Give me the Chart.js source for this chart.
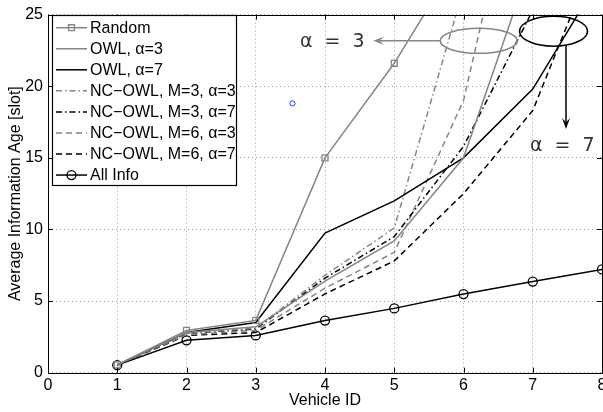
<!DOCTYPE html>
<html>
<head>
<meta charset="utf-8">
<script src="https://cdn.jsdelivr.net/npm/chart.js@4/dist/chart.umd.min.js"></script>
<style>
    html, body { margin: 0; padding: 0; background: #fff; overflow: hidden; }
    #wrap { width: 612px; height: 412px; }
</style>
</head>
<body>
<div id="wrap"><canvas id="chart" width="612" height="412"></canvas></div>
<script>
const vehicleIds = [1, 2, 3, 4, 5, 6, 7, 8];
const randomAge  = [0.55, 2.95, 3.65, 15.0, 21.6, 29.5, 38.0, 46.0];
const owlA3      = [0.55, 2.80, 3.20, 6.4, 9.2, 15.0, 29.0, 42.0];
const owlA7      = [0.55, 2.80, 3.50, 9.75, 12.0, 15.0, 19.8, 27.8];
const ncM3A3     = [0.55, 2.75, 3.10, 6.8, 10.1, 26.8, 42.0, 60.0];
const ncM3A7     = [0.55, 2.75, 3.05, 6.6, 9.5, 15.8, 25.3, 34.0];
const ncM6A3     = [0.55, 2.65, 2.95, 5.9, 8.4, 19.0, 40.0, 58.0];
const ncM6A7     = [0.55, 2.60, 2.80, 5.5, 7.8, 12.5, 18.3, 30.3];
const allInfo    = [0.53, 2.26, 2.60, 3.64, 4.49, 5.49, 6.36, 7.21];

const strayX = [3.53];
const strayY = [18.8];

const seriesNames = [
    "Random", "OWL, \u03b1=3", "OWL, \u03b1=7",
    "NC\u2212OWL, M=3, \u03b1=3", "NC\u2212OWL, M=3, \u03b1=7",
    "NC\u2212OWL, M=6, \u03b1=3", "NC\u2212OWL, M=6, \u03b1=7", "All Info"
];

const GRAY = "#858585";
const FONT = "'Liberation Sans', Arial, Helvetica, sans-serif";
const DASH = [6, 4];
const DASH_DOT = [6, 3, 1.5, 3];

function pts(values) {
    return vehicleIds.map((v, i) => ({ x: v, y: values[i] }));
}

function series(label, values, color, dash, marker) {
    return {
        label,
        data: pts(values),
        borderColor: color,
        backgroundColor: "transparent",
        borderWidth: 1.5,
        borderDash: dash,
        pointStyle: marker || false,
        pointRadius: marker === "rect" ? 4.2 : (marker ? 4.5 : 0),
        pointBorderColor: color,
        pointBorderWidth: 1.3,
        pointBackgroundColor: "transparent",
        tension: 0
    };
}

const datasets = [
    series(seriesNames[0], randomAge, GRAY, [], "rect"),
    series(seriesNames[1], owlA3, GRAY, []),
    series(seriesNames[2], owlA7, "#000", []),
    series(seriesNames[3], ncM3A3, GRAY, DASH_DOT),
    series(seriesNames[4], ncM3A7, "#000", DASH_DOT),
    series(seriesNames[5], ncM6A3, GRAY, DASH),
    series(seriesNames[6], ncM6A7, "#000", DASH),
    series(seriesNames[7], allInfo, "#000", [], "circle"),
    {
        label: "",
        data: strayX.map((x, i) => ({ x, y: strayY[i] })),
        showLine: false,
        pointStyle: "circle",
        pointRadius: 2.6,
        pointBorderColor: "#2233ff",
        pointBorderWidth: 1,
        pointBackgroundColor: "transparent",
        skipLegend: true
    }
];

function drawMarker(ctx, style, x, y, r, color) {
    ctx.save();
    ctx.setLineDash([]);
    ctx.strokeStyle = color;
    ctx.lineWidth = 1.3;
    ctx.beginPath();
    if (style === "rect") {
        const s = Math.SQRT1_2 * r;
        ctx.rect(x - s, y - s, 2 * s, 2 * s);
    } else {
        ctx.arc(x, y, r, 0, Math.PI * 2);
    }
    ctx.stroke();
    ctx.restore();
}

function arrow(ctx, x1, y1, x2, y2, color) {
    const ang = Math.atan2(y2 - y1, x2 - x1);
    const len = 11, half = 4;
    ctx.save();
    ctx.strokeStyle = color;
    ctx.fillStyle = color;
    ctx.lineWidth = 1.5;
    ctx.beginPath();
    ctx.moveTo(x1, y1);
    ctx.lineTo(x2 - Math.cos(ang) * len * 0.6, y2 - Math.sin(ang) * len * 0.6);
    ctx.stroke();
    ctx.beginPath();
    ctx.moveTo(x2, y2);
    ctx.lineTo(x2 - Math.cos(ang) * len - Math.sin(ang) * half, y2 - Math.sin(ang) * len + Math.cos(ang) * half);
    ctx.lineTo(x2 - Math.cos(ang) * len * 0.6, y2 - Math.sin(ang) * len * 0.6);
    ctx.lineTo(x2 - Math.cos(ang) * len + Math.sin(ang) * half, y2 - Math.sin(ang) * len - Math.cos(ang) * half);
    ctx.closePath();
    ctx.fill();
    ctx.restore();
}

// frame with inward ticks, legend box and the alpha callouts
const decorations = {
    id: "decorations",
    afterDraw(chart) {
        const { ctx, chartArea: a, scales } = chart;
        const xs = scales.x, ys = scales.y;

        ctx.save();
        ctx.strokeStyle = "#000";
        ctx.lineWidth = 1;
        ctx.setLineDash([]);
        ctx.strokeRect(Math.round(a.left) + 0.5, Math.round(a.top) + 0.5,
            Math.round(a.right - a.left), Math.round(a.bottom - a.top));
        ctx.beginPath();
        xs.ticks.forEach(t => {
            const px = Math.round(xs.getPixelForValue(t.value)) + 0.5;
            ctx.moveTo(px, a.bottom); ctx.lineTo(px, a.bottom - 5);
            ctx.moveTo(px, a.top); ctx.lineTo(px, a.top + 5);
        });
        ys.ticks.forEach(t => {
            const py = Math.round(ys.getPixelForValue(t.value)) + 0.5;
            ctx.moveTo(a.left, py); ctx.lineTo(a.left + 5, py);
            ctx.moveTo(a.right, py); ctx.lineTo(a.right - 5, py);
        });
        ctx.stroke();
        ctx.restore();

        // callouts
        ctx.save();
        const g = { x: xs.getPixelForValue(6.22), y: ys.getPixelForValue(23.17) };
        ctx.strokeStyle = GRAY;
        ctx.lineWidth = 1.6;
        ctx.beginPath();
        ctx.ellipse(g.x, g.y, 38.5, 12.5, 0, 0, Math.PI * 2);
        ctx.stroke();
        arrow(ctx, g.x - 38.5, g.y, 373, g.y, GRAY);

        const b = { x: xs.getPixelForValue(7.3), y: ys.getPixelForValue(23.84) };
        ctx.strokeStyle = "#000";
        ctx.lineWidth = 1.6;
        ctx.beginPath();
        ctx.ellipse(b.x, b.y, 34, 15, 0, 0, Math.PI * 2);
        ctx.stroke();
        arrow(ctx, 566, b.y + 14.5, 566, 129, "#000");

        ctx.fillStyle = "#333";
        ctx.font = "19px 'DejaVu Sans', sans-serif";
        ctx.textBaseline = "middle";
        ctx.textAlign = "left";
        ctx.fillText("\u03b1  =  3", 300, g.y + 1);
        ctx.fillText("\u03b1  =  7", 530, 146);
        ctx.restore();

        // legend
        ctx.save();
        const lx = 52.5, ly = 15.5, lw = 184, lh = 170;
        ctx.fillStyle = "#fff";
        ctx.fillRect(lx, ly, lw, lh);
        ctx.strokeStyle = "#000";
        ctx.lineWidth = 1.2;
        ctx.strokeRect(lx, ly, lw, lh);
        ctx.font = "16px " + FONT;
        ctx.textBaseline = "middle";
        chart.data.datasets.filter(d => !d.skipLegend).forEach((d, i) => {
            const y = 27.7 + i * 21.05;
            ctx.strokeStyle = d.borderColor;
            ctx.lineWidth = d.borderWidth;
            ctx.setLineDash(d.borderDash);
            ctx.beginPath();
            ctx.moveTo(56, y);
            ctx.lineTo(87, y);
            ctx.stroke();
            if (d.pointStyle) drawMarker(ctx, d.pointStyle, 71.5, y, d.pointRadius, d.borderColor);
            ctx.fillStyle = "#000";
            ctx.fillText(d.label, 90, y + 1);
        });
        ctx.restore();
    }
};

const tickFont = { family: FONT, size: 16 };

new Chart(document.getElementById("chart"), {
    type: "line",
    data: { datasets },
    options: {
        responsive: false,
        animation: false,
        layout: { padding: { top: 11, right: 10, left: 0, bottom: 0 } },
        plugins: { legend: { display: false }, tooltip: { enabled: false } },
        scales: {
            x: {
                type: "linear",
                min: 0,
                max: 8,
                afterFit: s => { s.height = 39.3; },
                ticks: { stepSize: 1, color: "#000", font: tickFont, padding: 3 },
                grid: { color: "#9a9a9a", drawTicks: false, lineWidth: 1 },
                border: { display: false, dash: [1, 3] },
                title: { display: true, text: "Vehicle ID", color: "#000", font: { family: FONT, size: 16 }, padding: { top: 0, bottom: 2 } }
            },
            y: {
                min: 0,
                max: 25,
                afterFit: s => { s.width = 48; },
                ticks: { stepSize: 5, color: "#000", font: tickFont, padding: 5 },
                grid: { color: "#9a9a9a", drawTicks: false, lineWidth: 1 },
                border: { display: false, dash: [1, 3] },
                title: { display: true, text: "Average Information Age [slot]", color: "#000", font: { family: FONT, size: 16 }, padding: { top: 6, bottom: 0 } }
            }
        }
    },
    plugins: [decorations]
});
</script>
</body>
</html>
